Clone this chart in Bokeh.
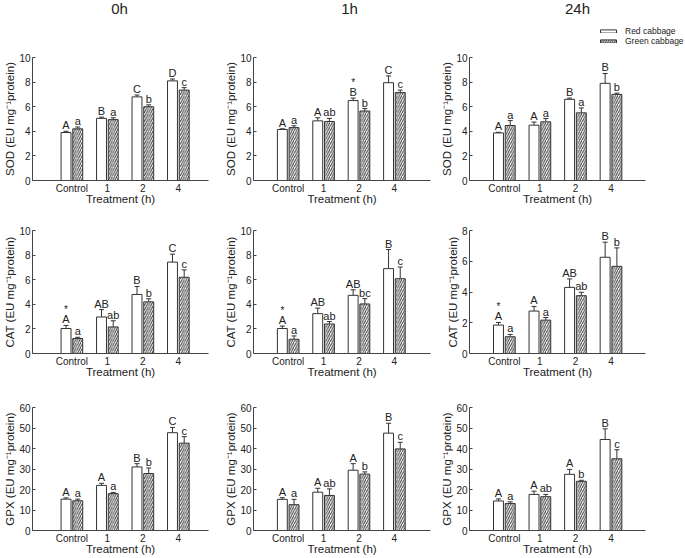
from bokeh.plotting import figure
from bokeh.layouts import gridplot, column
from bokeh.models import (Range1d, FixedTicker, ColumnDataSource, Whisker, TeeHead,
                          Legend, LegendItem, Label)
from bokeh.core.properties import value
from bokeh.embed import file_html
from bokeh.resources import INLINE

categories = ["Control", "1", "2", "4"]
times = ["0h", "1h", "24h"]
enzymes = ["SOD", "CAT", "GPX"]
series = ["Red cabbage", "Green cabbage"]

# ---- SOD ----
sod_0h_red = [3.9, 5.05, 6.8, 8.1]
sod_0h_red_err = [0.1, 0.1, 0.15, 0.15]
sod_0h_green = [4.2, 4.95, 6.0, 7.35]
sod_0h_green_err = [0.15, 0.15, 0.15, 0.2]
sod_0h_red_lab = ["A", "B", "C", "D"]
sod_0h_green_lab = ["a", "a", "b", "c"]
sod_0h_star = [0, 0, 0, 0]

sod_1h_red = [4.15, 4.85, 6.5, 7.95]
sod_1h_red_err = [0.05, 0.25, 0.2, 0.55]
sod_1h_green = [4.3, 4.8, 5.65, 7.15]
sod_1h_green_err = [0.15, 0.25, 0.2, 0.2]
sod_1h_red_lab = ["A", "A", "B", "C"]
sod_1h_green_lab = ["a", "ab", "b", "c"]
sod_1h_star = [0, 0, 1, 0]

sod_24h_red = [3.87, 4.5, 6.6, 7.9]
sod_24h_red_err = [0.05, 0.25, 0.1, 0.8]
sod_24h_green = [4.47, 4.77, 5.5, 7.0]
sod_24h_green_err = [0.4, 0.27, 0.4, 0.1]
sod_24h_red_lab = ["A", "A", "B", "B"]
sod_24h_green_lab = ["a", "a", "a", "b"]
sod_24h_star = [0, 0, 0, 0]

# ---- CAT ----
cat_0h_red = [2.03, 2.97, 4.8, 7.43]
cat_0h_red_err = [0.25, 0.6, 0.65, 0.65]
cat_0h_green = [1.22, 2.16, 4.2, 6.2]
cat_0h_green_err = [0.1, 0.5, 0.25, 0.6]
cat_0h_red_lab = ["A", "AB", "B", "C"]
cat_0h_green_lab = ["a", "ab", "b", "c"]
cat_0h_star = [1, 0, 0, 0]

cat_1h_red = [2.03, 3.24, 4.73, 6.9]
cat_1h_red_err = [0.2, 0.45, 0.45, 1.55]
cat_1h_green = [1.16, 2.4, 4.03, 6.08]
cat_1h_green_err = [0.27, 0.2, 0.43, 0.95]
cat_1h_red_lab = ["A", "AB", "AB", "B"]
cat_1h_green_lab = ["a", "ab", "bc", "c"]
cat_1h_star = [1, 0, 0, 0]

cat_24h_red = [1.85, 2.76, 4.3, 6.26]
cat_24h_red_err = [0.17, 0.3, 0.55, 0.98]
cat_24h_green = [1.09, 2.17, 3.76, 5.67]
cat_24h_green_err = [0.15, 0.17, 0.22, 1.2]
cat_24h_red_lab = ["A", "A", "AB", "B"]
cat_24h_green_lab = ["a", "a", "ab", "b"]
cat_24h_star = [1, 0, 0, 0]

# ---- GPX ----
gpx_0h_red = [15.3, 22.0, 31.0, 47.7]
gpx_0h_red_err = [0.6, 1.0, 1.6, 2.6]
gpx_0h_green = [14.5, 18.0, 27.8, 42.6]
gpx_0h_green_err = [0.8, 0.6, 2.7, 3.2]
gpx_0h_red_lab = ["A", "A", "B", "C"]
gpx_0h_green_lab = ["a", "a", "b", "c"]
gpx_0h_star = [0, 0, 0, 0]

gpx_1h_red = [15.2, 18.7, 29.4, 47.5]
gpx_1h_red_err = [0.8, 1.9, 3.2, 4.8]
gpx_1h_green = [12.6, 17.1, 27.5, 39.8]
gpx_1h_green_err = [2.6, 3.2, 1.1, 3.2]
gpx_1h_red_lab = ["A", "A", "A", "B"]
gpx_1h_green_lab = ["a", "ab", "b", "c"]
gpx_1h_star = [0, 0, 0, 0]

gpx_24h_red = [14.4, 17.6, 27.4, 44.4]
gpx_24h_red_err = [1.0, 1.6, 2.4, 5.2]
gpx_24h_green = [13.2, 16.5, 24.0, 35.0]
gpx_24h_green_err = [0.8, 1.1, 0.5, 4.4]
gpx_24h_red_lab = ["A", "A", "A", "B"]
gpx_24h_green_lab = ["a", "ab", "b", "c"]
gpx_24h_star = [0, 0, 0, 0]

sod_ticks = [0, 2, 4, 6, 8, 10]
cat_ticks = [0, 2, 4, 6, 8, 10]
cat_24h_ticks = [0, 2, 4, 6, 8]
gpx_ticks = [0, 10, 20, 30, 40, 50, 60]

panels = [
    [(sod_0h_red, sod_0h_red_err, sod_0h_green, sod_0h_green_err, sod_0h_red_lab, sod_0h_green_lab, sod_0h_star, sod_ticks),
     (sod_1h_red, sod_1h_red_err, sod_1h_green, sod_1h_green_err, sod_1h_red_lab, sod_1h_green_lab, sod_1h_star, sod_ticks),
     (sod_24h_red, sod_24h_red_err, sod_24h_green, sod_24h_green_err, sod_24h_red_lab, sod_24h_green_lab, sod_24h_star, sod_ticks)],
    [(cat_0h_red, cat_0h_red_err, cat_0h_green, cat_0h_green_err, cat_0h_red_lab, cat_0h_green_lab, cat_0h_star, cat_ticks),
     (cat_1h_red, cat_1h_red_err, cat_1h_green, cat_1h_green_err, cat_1h_red_lab, cat_1h_green_lab, cat_1h_star, cat_ticks),
     (cat_24h_red, cat_24h_red_err, cat_24h_green, cat_24h_green_err, cat_24h_red_lab, cat_24h_green_lab, cat_24h_star, cat_24h_ticks)],
    [(gpx_0h_red, gpx_0h_red_err, gpx_0h_green, gpx_0h_green_err, gpx_0h_red_lab, gpx_0h_green_lab, gpx_0h_star, gpx_ticks),
     (gpx_1h_red, gpx_1h_red_err, gpx_1h_green, gpx_1h_green_err, gpx_1h_red_lab, gpx_1h_green_lab, gpx_1h_star, gpx_ticks),
     (gpx_24h_red, gpx_24h_red_err, gpx_24h_green, gpx_24h_green_err, gpx_24h_red_lab, gpx_24h_green_lab, gpx_24h_star, gpx_ticks)],
]

FONT = "Liberation Sans"
INK = "#222222"
AXIS = "#444444"
BAR_LINE = "#333333"
HATCH = "#3a3a3a"
HATCH_SCALE = 4.5

# ---------------- layout (pixels) ----------------
TOTAL_W = 684
HEADER_H = 50
col_w = [222, 216, 246]
col_left = [32, 30, 30]
col_frame = [176, 178, 177]
col_xrange = [(-1.11, 3.85), (-0.98, 4.02), (-0.98, 3.97)]
header_x = [119, 349, 577]
row_h = [157, 173, 177]
row_top = [7, 23, 27]
row_bot = [25, 27, 26]

BAR_W = 0.28
OFF = 0.165

# ---------------- header strip: column titles + legend ----------------
hdr = figure(width=TOTAL_W, height=HEADER_H, output_backend="svg", toolbar_location=None,
             x_range=Range1d(0, TOTAL_W), y_range=Range1d(0, HEADER_H),
             x_axis_type=None, y_axis_type=None, min_border=0)
hdr.outline_line_color = None
hdr.grid.visible = False
for c in range(3):
    hdr.add_layout(Label(x=header_x[c], y=HEADER_H - 8, x_units="screen", y_units="screen",
                         text=times[c], text_align="center", text_baseline="middle",
                         text_font=FONT, text_font_size="15px", text_color=INK))
# legend-only proxies: a single zero-height bar placed outside the visible range
proxy = ColumnDataSource(dict(x=[-10.0], top=[0.0]))
leg_red = hdr.vbar(x="x", top="top", width=1, source=proxy,
                   fill_color="white", line_color=BAR_LINE, line_width=1)
leg_green = hdr.vbar(x="x", top="top", width=1, source=proxy,
                     fill_color="white", line_color=BAR_LINE, line_width=1,
                     hatch_pattern="/", hatch_color=HATCH, hatch_scale=HATCH_SCALE, hatch_weight=1)
legend = Legend(items=[LegendItem(label=series[0], renderers=[leg_red]),
                       LegendItem(label=series[1], renderers=[leg_green])],
                location=(598, 4))
legend.border_line_color = None
legend.background_fill_alpha = 0
legend.glyph_width = 20
legend.glyph_height = 4
legend.label_height = 7
legend.label_standoff = 7
legend.spacing = -3
legend.padding = 0
legend.margin = 0
legend.label_text_font = FONT
legend.label_text_font_size = "8.5px"
legend.label_text_color = INK
legend.label_text_baseline = "middle"
hdr.add_layout(legend)

# ---------------- 3 x 3 panels ----------------
grid = []
for r in range(3):
    row_figs = []
    for c in range(3):
        red, red_err, green, green_err, red_lab, green_lab, star, ticks = panels[r][c]
        idx = list(range(len(categories)))
        xr = [i - OFF for i in idx]
        xg = [i + OFF for i in idx]
        src = ColumnDataSource(dict(
            xr=xr, xg=xg, red=red, green=green,
            red_top=[m + e for m, e in zip(red, red_err)],
            green_top=[m + e for m, e in zip(green, green_err)],
            red_lab=red_lab, green_lab=green_lab,
        ))
        star_src = ColumnDataSource(dict(
            x=[xr[i] for i in idx if star[i]],
            y=[red[i] + red_err[i] for i in idx if star[i]],
            t=["*" for i in idx if star[i]],
        ))
        w = col_w[c]
        fw = col_frame[c]
        p = figure(width=w, height=row_h[r], output_backend="svg", toolbar_location=None,
                   x_range=Range1d(*col_xrange[c]), y_range=Range1d(0, ticks[-1]),
                   min_border_left=col_left[c], min_border_right=w - col_left[c] - fw,
                   min_border_top=row_top[r], min_border_bottom=row_bot[r])
        p.outline_line_color = None
        p.grid.visible = False
        p.background_fill_color = "white"

        p.vbar(x="xr", top="red", bottom=0, width=BAR_W, source=src,
               fill_color="white", line_color=BAR_LINE, line_width=1)
        p.vbar(x="xg", top="green", bottom=0, width=BAR_W, source=src,
               fill_color="white", line_color=BAR_LINE, line_width=1,
               hatch_pattern="/", hatch_color=HATCH, hatch_scale=HATCH_SCALE, hatch_weight=1)
        for base, top, low in (("xr", "red_top", "red"), ("xg", "green_top", "green")):
            wk = Whisker(source=src, base=base, upper=top, lower=low, dimension="height",
                         line_color=BAR_LINE, line_width=1,
                         upper_head=TeeHead(size=5, line_color=BAR_LINE, line_width=1),
                         lower_head=None)
            p.add_layout(wk)
        p.text(x="xr", y="red_top", text="red_lab", source=src, text_align="center",
               text_baseline="bottom", y_offset=0, text_font=value(FONT),
               text_font_size="11px", text_color=INK)
        p.text(x="xg", y="green_top", text="green_lab", source=src, text_align="center",
               text_baseline="bottom", y_offset=0, text_font=value(FONT),
               text_font_size="11px", text_color=INK)
        p.text(x="x", y="y", text="t", source=star_src, text_align="center",
               text_baseline="bottom", y_offset=-10, text_font=value(FONT),
               text_font_size="10px", text_color=INK)

        xa = p.xaxis[0]
        xa.ticker = FixedTicker(ticks=idx)
        xa.major_label_overrides = {i: categories[i] for i in idx}
        xa.axis_label = "Treatment (h)"
        xa.major_tick_line_color = None
        xa.major_tick_out = 0
        xa.major_tick_in = 0
        xa.minor_tick_line_color = None
        xa.minor_tick_out = 0
        xa.major_label_standoff = 2
        xa.axis_label_standoff = -4
        xa.axis_line_color = AXIS
        xa.major_label_text_font = FONT
        xa.major_label_text_font_size = "10px"
        xa.major_label_text_color = INK
        xa.axis_label_text_font = FONT
        xa.axis_label_text_font_size = "11.5px"
        xa.axis_label_text_font_style = "normal"
        xa.axis_label_text_color = INK

        ya = p.yaxis[0]
        ya.ticker = FixedTicker(ticks=ticks)
        ya.axis_label = enzymes[r] + " (EU mg\u207b\u00b9protein)"
        ya.minor_tick_line_color = None
        ya.minor_tick_out = 0
        ya.major_tick_out = 0
        ya.major_tick_in = 3
        ya.major_tick_line_color = AXIS
        ya.major_label_standoff = 2
        ya.axis_label_standoff = 0
        ya.axis_line_color = AXIS
        ya.major_label_text_font = FONT
        ya.major_label_text_font_size = "10px"
        ya.major_label_text_color = INK
        ya.axis_label_text_font = FONT
        ya.axis_label_text_font_size = "11.5px"
        ya.axis_label_text_font_style = "normal"
        ya.axis_label_text_color = INK
        row_figs.append(p)
    grid.append(row_figs)

panels_grid = gridplot(grid, toolbar_location=None)
layout = column(hdr, panels_grid)
open("out.html", "w").write(file_html(layout, INLINE))
